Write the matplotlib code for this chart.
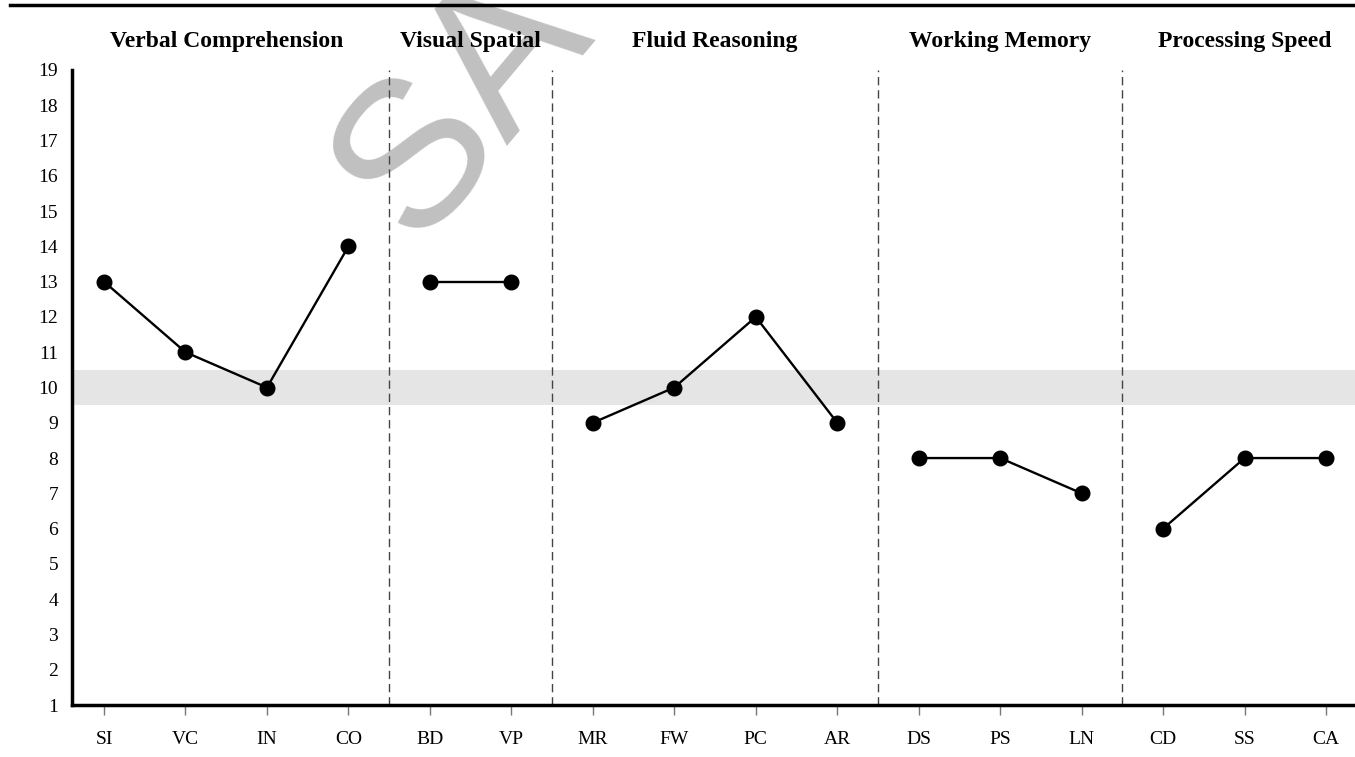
import numpy as np
import matplotlib
matplotlib.use('Agg')
import matplotlib.pyplot as plt
from matplotlib.lines import Line2D

# subtest scores, grouped by index
groups = ['Verbal Comprehension', 'Visual Spatial', 'Fluid Reasoning', 'Working Memory', 'Processing Speed']
group_tests = [['SI', 'VC', 'IN', 'CO'],
               ['BD', 'VP'],
               ['MR', 'FW', 'PC', 'AR'],
               ['DS', 'PS', 'LN'],
               ['CD', 'SS', 'CA']]
group_scores = [[13, 11, 10, 14],
                [13, 13],
                [9, 10, 12, 9],
                [8, 8, 7],
                [6, 8, 8]]
y_ticks = list(range(1, 20))
mean_band = (9.5, 10.5)

W, H = 1355, 757
plt.rcParams['font.family'] = ['Liberation Serif', 'DejaVu Serif']

fig = plt.figure(figsize=(W / 100, H / 100), dpi=100)
ax = fig.add_axes([72 / W, 1 - 705 / H, 1 - 72 / W, (705 - 70) / H])
ax.patch.set_visible(False)

labels = [t for g in group_tests for t in g]
x_pos = np.arange(len(labels))

# average range band
ax.axhspan(mean_band[0], mean_band[1], color='#e5e5e5', zorder=0, lw=0)

# one line per group, plus dashed separators between groups
start = 0
for i, (tests, scores) in enumerate(zip(group_tests, group_scores)):
    xs = x_pos[start:start + len(tests)]
    ax.plot(xs, scores, color='black', lw=1.7, marker='o', markersize=10.5, zorder=3)
    if i > 0:
        ax.axvline(start - 0.5, color='#444444', lw=1, ls=(0, (6, 3.5)), zorder=2)
    start += len(tests)

ax.set_xlim(-0.393, 15.355)
ax.set_ylim(1, 19)
ax.set_xticks(x_pos)
ax.set_xticklabels(labels)
ax.set_yticks(y_ticks)

for side in ['top', 'right']:
    ax.spines[side].set_visible(False)
ax.spines['left'].set_linewidth(2.5)
ax.spines['bottom'].set_linewidth(2.5)
ax.tick_params(axis='y', length=0, pad=10, labelsize=14)
ax.tick_params(axis='x', length=7, width=1, color='#777777', pad=12, labelsize=14)

# group titles above the plot
start = 0
for name, tests in zip(groups, group_tests):
    mid = start + (len(tests) - 1) / 2
    px = ax.transData.transform((mid, 10))[0]
    fig.text(px / W, 1 - 41 / H, name, ha='center', va='center',
             fontsize=17, fontweight='bold', zorder=4)
    start += len(tests)

# rule across the top
fig.add_artist(Line2D([10 / W, 1], [1 - 5 / H, 1 - 5 / H], color='black', lw=2.5))

# watermark (only the start of it shows in the picture)
fig.text(415 / W, 1 - 245 / H, 'SA', family='Liberation Sans', fontsize=150,
         color='#c0c0c0', rotation=50, rotation_mode='anchor',
         ha='left', va='baseline', zorder=-1)

fig.savefig('out.png', dpi=100)
